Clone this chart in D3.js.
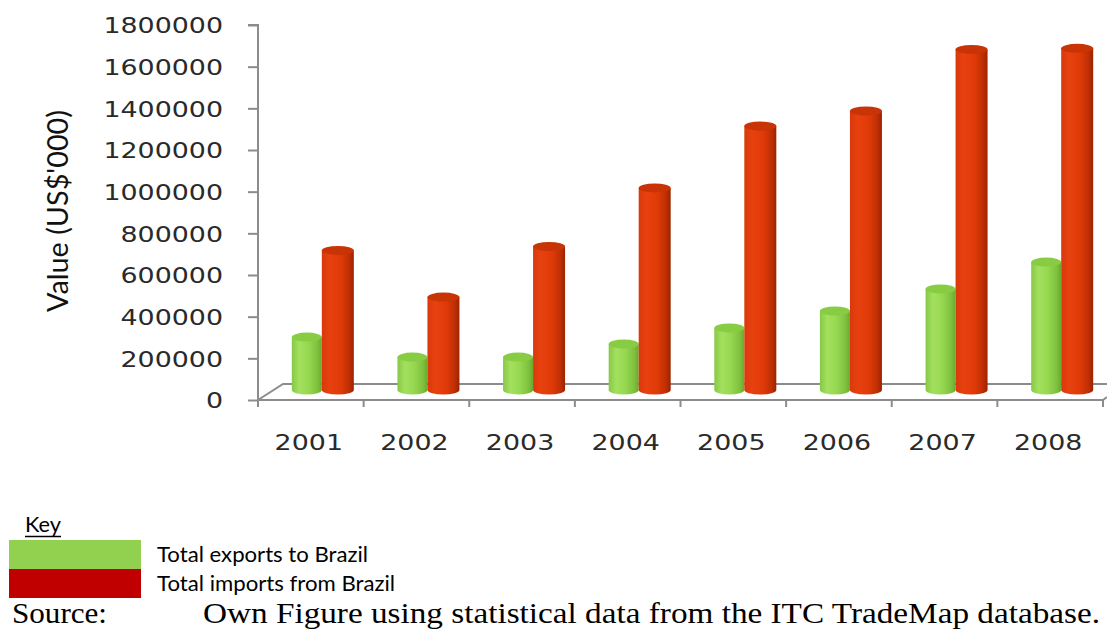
<!DOCTYPE html>
<html><head><meta charset="utf-8">
<script src="https://cdn.jsdelivr.net/npm/d3@7"></script>
<style>
html,body{margin:0;padding:0;background:#fff;}
svg{display:block;}
</style></head>
<body>
<svg id="chart" width="1107" height="630"></svg>
<script>
const years = ["2001","2002","2003","2004","2005","2006","2007","2008"];
const exportsToBrazil = [254000,158000,158000,221000,298000,379000,485000,614000];
const importsFromBrazil = [670000,446000,689000,970000,1267000,1339000,1635000,1640000];
const yTicks = [0,200000,400000,600000,800000,1000000,1200000,1400000,1600000,1800000];
const seriesNames = ["Total exports to Brazil","Total imports from Brazil"];
const legendColors = ["#92d050","#c00000"];

const svg = d3.select("#chart");
const STRETCH = 1.31;
function stretch(sel){ sel.each(function(){ const l=this.getComputedTextLength(); d3.select(this).attr("textLength", l*STRETCH).attr("lengthAdjust","spacingAndGlyphs"); }); }

// scales
const x = d3.scaleBand().domain(years).range([258,1103]).paddingInner(0).paddingOuter(0);
const y = d3.scaleLinear().domain([0,1800000]).range([400,25]);
// bars sit at mid floor depth: shifted up/right
const depthDy = -10, depthDx = 11;
const yb = d3.scaleLinear().domain([0,1800000]).range([400+depthDy, 25+depthDy]);

const gridCol = "#8c8c8c";
// defs
const defs = svg.append("defs");
function grad(id, stops){
  const g = defs.append("linearGradient").attr("id",id).attr("x1","0%").attr("x2","100%").attr("y1","0%").attr("y2","0%");
  stops.forEach(s=>g.append("stop").attr("offset",s[0]).attr("stop-color",s[1]));
}
grad("gGreen",[["0%","#86c947"],["25%","#a3e05e"],["55%","#96d850"],["85%","#7fc13e"],["100%","#6aa82f"]]);
grad("gRed",[["0%","#d8390c"],["25%","#e8410f"],["60%","#de3a08"],["85%","#bf2f04"],["100%","#9a2300"]]);

// floor / axes
const axisG = svg.append("g");
axisG.append("path")
  .attr("d", `M${x.range()[0]},${y(0)} L${x.range()[0]+25},${y(0)-16} L1107,${y(0)-16}`)
  .attr("fill","none").attr("stroke",gridCol).attr("stroke-width",2);
axisG.append("path")
  .attr("d", `M${x.range()[0]},${y(0)} L${x.range()[1]},${y(0)} L1107,${y(0)-3}`)
  .attr("fill","none").attr("stroke",gridCol).attr("stroke-width",2);

// y axis
const yAxis = d3.axisLeft(y).tickValues(yTicks).tickFormat(d3.format("d")).tickSize(10).tickPadding(25);
const yg = svg.append("g").attr("transform",`translate(${x.range()[0]},0)`).call(yAxis);
yg.select(".domain").attr("stroke",gridCol).attr("stroke-width",2).attr("d",`M-10,${y(1800000)}H0V${y(0)}`);
yg.selectAll(".tick line").attr("stroke",gridCol).attr("stroke-width",2);
yg.selectAll(".tick text").attr("font-family","DejaVu Sans").attr("font-size",20.5).attr("fill","#2a2a2a").attr("dy","0.38em");
stretch(yg.selectAll(".tick text"));

// x ticks at band boundaries
const bounds = years.map(d=>x(d)).concat([x.range()[1]]);
svg.append("g").selectAll("line").data(bounds).join("line")
  .attr("x1",d=>d).attr("x2",d=>d).attr("y1",y(0)).attr("y2",y(0)+7)
  .attr("stroke",gridCol).attr("stroke-width",2);
// x labels
const xl = svg.append("g").selectAll("text").data(years).join("text")
  .attr("x",d=>x(d)+x.bandwidth()/2-2).attr("y",450)
  .attr("text-anchor","middle").attr("font-family","DejaVu Sans").attr("font-size",20.5).attr("fill","#2a2a2a")
  .text(d=>d);
stretch(xl);

// cylinders
const ry = 4.5;
function cyl(g, cx, w, yTop, yBot, fill, topFill){
  const x0 = cx - w/2, x1 = cx + w/2, r = w/2;
  g.append("path")
    .attr("d", `M${x0},${yTop} L${x0},${yBot} A${r},${ry} 0 0 0 ${x1},${yBot} L${x1},${yTop} Z`)
    .attr("fill", fill);
  g.append("ellipse").attr("cx",cx).attr("cy",yTop).attr("rx",r).attr("ry",ry).attr("fill",topFill);
}
const barsG = svg.append("g");
const wG = 30, wR = 32;
years.forEach((yr,i)=>{
  const c = x(yr) + x.bandwidth()/2 + depthDx;
  cyl(barsG, c - wG/2, wG, yb(exportsToBrazil[i]), yb(0), "url(#gGreen)", "#88cc44");
  cyl(barsG, c + wR/2, wR, yb(importsFromBrazil[i]), yb(0), "url(#gRed)", "#c93406");
});

// y title
svg.append("text")
  .attr("transform","translate(68,211) scale(1.3,1) rotate(-90)")
  .attr("text-anchor","middle").attr("font-family","Lato, 'Open Sans', sans-serif").attr("font-size",22)
  .attr("fill","#111").attr("textLength",202).attr("lengthAdjust","spacingAndGlyphs")
  .text("Value (US$'000)");

// Legend / key
const lg = svg.append("g");
lg.append("text").attr("x",25).attr("y",532).attr("font-family","Lato, sans-serif").attr("font-size",21).attr("fill","#000")
  .attr("textLength",36).attr("lengthAdjust","spacingAndGlyphs").text("Key");
lg.append("line").attr("x1",25).attr("x2",61).attr("y1",536.5).attr("y2",536.5).attr("stroke","#000").attr("stroke-width",1.4);
seriesNames.forEach((n,i)=>{
  lg.append("rect").attr("x",9).attr("y",540+i*29).attr("width",132).attr("height",29).attr("fill",legendColors[i]);
  lg.append("text").attr("x",157).attr("y",562+i*28.5).attr("font-family","Lato, sans-serif").attr("font-size",21).attr("fill","#000")
    .attr("textLength", i===0?211:238).attr("lengthAdjust","spacingAndGlyphs").text(n);
});
svg.append("text").attr("x",12).attr("y",623).attr("font-family","'Liberation Serif', serif").attr("font-size",30).attr("fill","#000")
  .attr("textLength",95).attr("lengthAdjust","spacingAndGlyphs").text("Source:");
svg.append("text").attr("x",203).attr("y",623).attr("font-family","'Liberation Serif', serif").attr("font-size",30).attr("fill","#000")
  .attr("textLength",897).attr("lengthAdjust","spacingAndGlyphs").text("Own Figure using statistical data from the ITC TradeMap database.");
</script>
</body></html>
